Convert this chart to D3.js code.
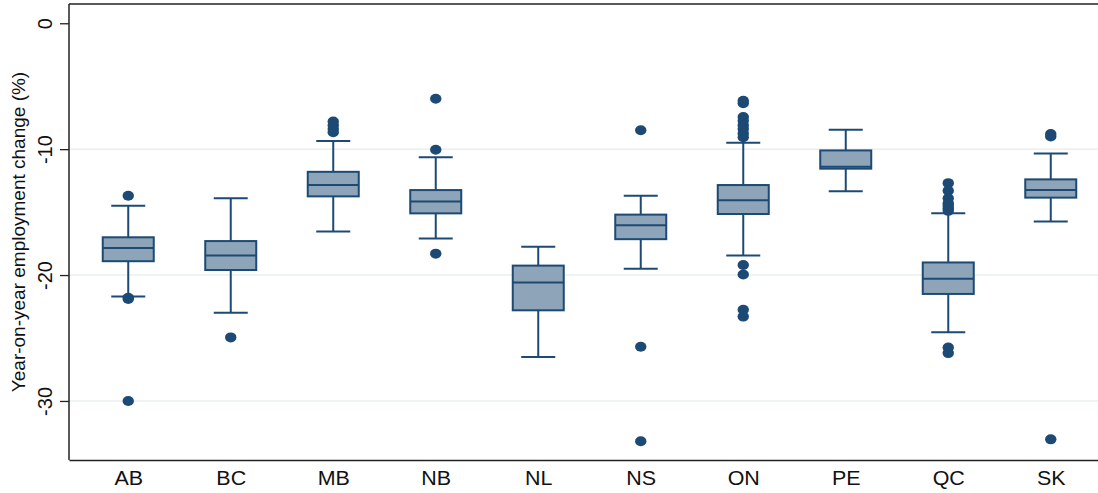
<!DOCTYPE html>
<html>
<head>
<meta charset="utf-8">
<script src="https://cdn.jsdelivr.net/npm/d3@7"></script>
<style>
  html, body { margin: 0; padding: 0; background: #fff; }
  svg { display: block; font-family: "Liberation Sans", Arial, sans-serif; }
</style>
</head>
<body>
<svg id="chart" width="1098" height="493"></svg>
<script>
// Provinces on the x axis
const provinces = ["AB", "BC", "MB", "NB", "NL", "NS", "ON", "PE", "QC", "SK"];

// Box summaries: year-on-year employment change (%)
const whiskerHigh = [-14.5, -13.9, -9.35, -10.65, -17.75, -13.7, -9.5, -8.45, -15.1, -10.35];
const q3Values    = [-17.0, -17.3, -11.8, -13.25, -19.25, -15.2, -12.85, -10.1, -19.0, -12.4];
const medians     = [-17.85, -18.45, -12.85, -14.15, -20.6, -16.05, -14.05, -11.4, -20.3, -13.25];
const q1Values    = [-18.9, -19.6, -13.75, -15.1, -22.8, -17.15, -15.15, -11.55, -21.5, -13.85];
const whiskerLow  = [-21.7, -23.0, -16.55, -17.1, -26.5, -19.5, -18.45, -13.35, -24.55, -15.75];

// Values beyond the whiskers
const outliers = [
  [-13.7, -21.8, -21.9, -30.0],
  [-24.95],
  [-7.8, -8.1, -8.4, -8.65],
  [-6.0, -10.05, -18.3],
  [],
  [-8.5, -25.7, -33.2],
  [-6.15, -6.35, -7.45, -7.75, -8.1, -8.4, -8.75, -9.05, -19.2, -19.95, -22.75, -23.3],
  [],
  [-12.7, -13.3, -13.9, -14.3, -14.5, -14.7, -14.9, -25.75, -26.2],
  [-8.8, -9.0, -33.05]
];

const yTicks = [0, -10, -20, -30];
const gridValues = [-10, -20, -30];

const svg = d3.select("#chart");
const plotLeft = 69, plotRight = 1110, plotTop = 4, plotBottom = 460;

const x = d3.scalePoint().domain(provinces).range([plotLeft, plotRight]).padding(0.578);
const y = d3.scaleLinear().domain([1.53, -34.69]).range([plotTop, plotBottom]);

const navy = "#1c4a74";
const boxFill = "#8ea4b8";
const boxW = 51, capW = 34;

// grid
svg.append("g").selectAll("line").data(gridValues).join("line")
  .attr("x1", plotLeft).attr("x2", plotRight)
  .attr("y1", d => y(d)).attr("y2", d => y(d))
  .attr("stroke", "#e9eff0").attr("stroke-width", 1.5);

// frame: left axis, bottom axis, top border
const yAxis = svg.append("g").attr("transform", `translate(${plotLeft},0)`)
  .call(d3.axisLeft(y).tickValues(yTicks).tickSize(9).tickFormat(d3.format("d")));
yAxis.select(".domain").remove();
yAxis.selectAll(".tick line").attr("stroke", "#222").attr("stroke-width", 1.3);
yAxis.selectAll(".tick text").remove();
yAxis.selectAll(".tick").append("text")
  .attr("transform", "translate(-17,0) rotate(-90)")
  .attr("text-anchor", "middle")
  .attr("fill", "#111")
  .style("font-size", "20px")
  .text(d => d3.format("d")(d).replace("−", "-"));

svg.append("line").attr("x1", plotLeft).attr("x2", plotLeft).attr("y1", plotTop).attr("y2", plotBottom)
  .attr("stroke", "#222").attr("stroke-width", 1.5);
svg.append("line").attr("x1", plotLeft).attr("x2", plotRight).attr("y1", plotTop).attr("y2", plotTop)
  .attr("stroke", "#222").attr("stroke-width", 1.5);

const xAxis = svg.append("g").attr("transform", `translate(0,${plotBottom})`)
  .call(d3.axisBottom(x).tickSize(0));
xAxis.select(".domain").attr("stroke", "#222").attr("stroke-width", 1.5);
xAxis.selectAll(".tick text").remove();
xAxis.selectAll(".tick").append("text")
  .attr("y", 25.5)
  .attr("text-anchor", "middle")
  .attr("fill", "#111")
  .attr("transform", "scale(1.1,1)")
  .style("font-size", "19.5px")
  .text(d => d);

// axis title
svg.append("text")
  .attr("transform", `translate(25,${(plotTop + plotBottom) / 2}) rotate(-90)`)
  .attr("text-anchor", "middle")
  .attr("fill", "#111")
  .style("font-size", "19px")
  .text("Year-on-year employment change (%)");

// boxes
const rows = provinces.map((p, i) => ({
  p, hi: whiskerHigh[i], q3: q3Values[i], med: medians[i], q1: q1Values[i], lo: whiskerLow[i], out: outliers[i]
}));

const g = svg.append("g");
const box = g.selectAll("g.box").data(rows).join("g").attr("class", "box")
  .attr("transform", d => `translate(${x(d.p)},0)`);

box.append("line").attr("y1", d => y(d.hi)).attr("y2", d => y(d.q3))
  .attr("stroke", navy).attr("stroke-width", 2);
box.append("line").attr("y1", d => y(d.q1)).attr("y2", d => y(d.lo))
  .attr("stroke", navy).attr("stroke-width", 2);
box.append("line").attr("x1", -capW / 2).attr("x2", capW / 2)
  .attr("y1", d => y(d.hi)).attr("y2", d => y(d.hi))
  .attr("stroke", navy).attr("stroke-width", 2);
box.append("line").attr("x1", -capW / 2).attr("x2", capW / 2)
  .attr("y1", d => y(d.lo)).attr("y2", d => y(d.lo))
  .attr("stroke", navy).attr("stroke-width", 2);
box.append("rect").attr("x", -boxW / 2).attr("width", boxW)
  .attr("y", d => y(d.q3)).attr("height", d => y(d.q1) - y(d.q3))
  .attr("fill", boxFill).attr("stroke", navy).attr("stroke-width", 2);
box.append("line").attr("x1", -boxW / 2).attr("x2", boxW / 2)
  .attr("y1", d => y(d.med)).attr("y2", d => y(d.med))
  .attr("stroke", navy).attr("stroke-width", 2);

box.selectAll("ellipse").data(d => d.out).join("ellipse")
  .attr("cx", 0).attr("cy", d => y(d))
  .attr("rx", 5.7).attr("ry", 5)
  .attr("fill", navy);
</script>
</body>
</html>
